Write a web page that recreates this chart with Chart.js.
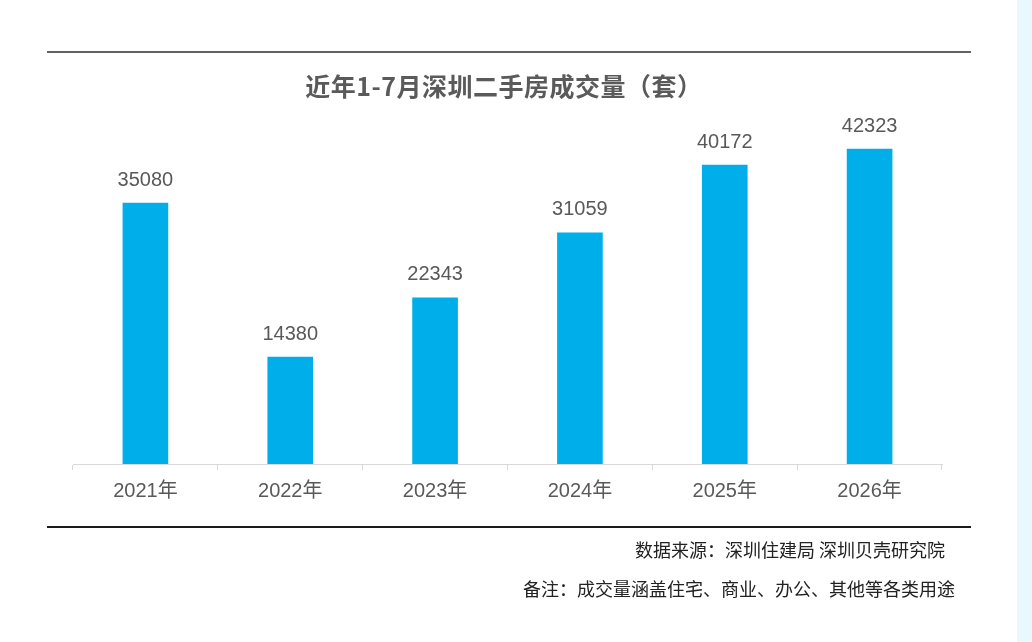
<!DOCTYPE html>
<html>
<head>
<meta charset="utf-8">
<script src="https://cdn.jsdelivr.net/npm/chart.js@4"></script>
<style>
html,body{margin:0;padding:0;background:#fff;width:1032px;height:642px;overflow:hidden;}
#wrap{position:relative;width:1032px;height:642px;}
#c{position:absolute;left:0;top:0;}
.line{position:absolute;}
.txt{position:absolute;white-space:nowrap;font-family:"Noto Sans CJK SC",sans-serif;}
#strip{position:absolute;left:1017px;top:0;width:15px;height:642px;background:#e8f8fd;}
</style>
</head>
<body>
<div id="wrap">
  <canvas id="c" width="1032" height="642"></canvas>
  <div class="line" style="left:47px;top:51px;width:924px;height:2px;background:#626262;"></div>
  <div class="line" style="left:47px;top:526px;width:924px;height:2px;background:#1a1a1a;"></div>
  <div class="txt" id="title" style="left:0;width:1008px;top:69px;text-align:center;font-size:25px;letter-spacing:0.5px;font-weight:bold;color:#5a5a5a;line-height:32px;">近年1-7月深圳二手房成交量（套）</div>
  <div class="txt" style="right:87px;top:537px;font-size:18px;color:#222;line-height:24px;">数据来源：深圳住建局 深圳贝壳研究院</div>
  <div class="txt" style="right:77px;top:576px;font-size:18px;color:#222;line-height:24px;">备注：成交量涵盖住宅、商业、办公、其他等各类用途</div>
  <div id="strip"></div>
</div>
<script>
const categories = ["2021年","2022年","2023年","2024年","2025年","2026年"];
const volumes = [35080, 14380, 22343, 31059, 40172, 42323];

const valueLabels = {
  id: 'valueLabels',
  afterDatasetsDraw(chart) {
    const ctx = chart.ctx;
    const meta = chart.getDatasetMeta(0);
    ctx.save();
    ctx.font = '20px "Liberation Sans","Noto Sans CJK SC",sans-serif';
    ctx.fillStyle = '#595959';
    ctx.textAlign = 'center';
    ctx.textBaseline = 'middle';
    meta.data.forEach((bar, i) => {
      ctx.fillText(String(chart.data.datasets[0].data[i]), bar.x, bar.y - 23);
    });
    ctx.restore();
  }
};

new Chart(document.getElementById('c'), {
  type: 'bar',
  data: {
    labels: categories,
    datasets: [{
      data: volumes,
      backgroundColor: '#00AEEA',
      borderWidth: 0,
      barThickness: 45
    }]
  },
  options: {
    responsive: false,
    animation: false,
    devicePixelRatio: 1,
    layout: { padding: { left: 73, right: 90, top: 92, bottom: 128 } },
    plugins: { legend: { display: false }, tooltip: { enabled: false }, title: { display: false } },
    scales: {
      x: {
        offset: true,
        grid: { offset: true, drawOnChartArea: false, drawTicks: true, tickLength: 6, color: '#d9d9d9', lineWidth: 1 },
        border: { display: true, color: '#d9d9d9', width: 1 },
        ticks: { color: '#595959', padding: 9, font: { size: 20, family: '"Liberation Sans","Noto Sans CJK SC",sans-serif' }, maxRotation: 0 },
        afterFit: (s) => { s.height = 50; }
      },
      y: {
        display: false,
        min: 0,
        max: 50000
      }
    }
  },
  plugins: [valueLabels]
});
</script>
</body>
</html>
